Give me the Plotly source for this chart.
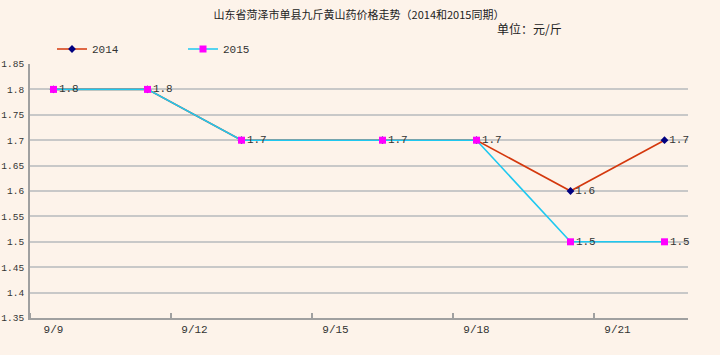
import plotly.graph_objects as go

dates = ["9/9", "9/11", "9/13", "9/16", "9/18", "9/20", "9/22"]
price_2014 = [1.8, 1.8, 1.7, 1.7, 1.7, 1.6, 1.7]
price_2015 = [1.8, 1.8, 1.7, 1.7, 1.7, 1.5, 1.5]
tick_labels = ["9/9", "9/12", "9/15", "9/18", "9/21"]
y_ticks = [1.35, 1.4, 1.45, 1.5, 1.55, 1.6, 1.65, 1.7, 1.75, 1.8, 1.85]

def day(s):
    return int(s.split("/")[1])

xs = [day(d) for d in dates]
tick_vals = [day(t) for t in tick_labels]

W, H = 720, 355
L, R, T, B = 30, 32, 64, 37
pw = W - L - R
ph = H - T - B

bg = "#FDF3EA"
num_font = "Liberation Mono"
cjk = "Noto Sans CJK SC"

# labels: 2015 everywhere, 2014 only where it is not hidden under the 2015 label
text_2015 = [f"{v:g}" for v in price_2015]
text_2014 = [f"{a:g}" if a != b else "" for a, b in zip(price_2014, price_2015)]

fig = go.Figure()
fig.add_trace(go.Scatter(
    x=xs, y=price_2014, name="2014", mode="lines+markers+text",
    line=dict(color="#D4380D", width=1.6),
    marker=dict(symbol="diamond", size=6, color="#000080"),
    text=text_2014, textposition="middle right",
    textfont=dict(family=num_font, size=11, color="#333333"),
    cliponaxis=False,
))
fig.add_trace(go.Scatter(
    x=xs, y=price_2015, name="2015", mode="lines+markers+text",
    line=dict(color="#1EC8F0", width=1.6),
    marker=dict(symbol="square", size=7, color="#FF00FF"),
    text=text_2015, textposition="middle right",
    textfont=dict(family=num_font, size=11, color="#333333"),
    cliponaxis=False,
))

fig.update_layout(
    width=W, height=H,
    margin=dict(l=L, r=R, t=T, b=B, autoexpand=False),
    paper_bgcolor=bg, plot_bgcolor=bg,
    title=dict(text="山东省菏泽市单县九斤黄山药价格走势（2014和2015同期）",
               x=359 / W, xanchor="center", y=1 - 15 / H, yanchor="middle",
               font=dict(family=cjk, size=11, color="#222222")),
    showlegend=True,
    legend=dict(orientation="h", x=(52 - L) / pw, xanchor="left",
                y=1 + (T - 49) / ph, yanchor="middle",
                bgcolor="rgba(0,0,0,0)", font=dict(family=num_font, size=11, color="#333333"),
                entrywidth=86, entrywidthmode="pixels", itemwidth=30),
    xaxis=dict(range=[8.5, 22.5], tickvals=tick_vals, ticktext=tick_labels,
               ticks="", showgrid=False, zeroline=False, automargin=False,
               showline=True, linecolor="#A0A0A0", linewidth=2,
               tickfont=dict(family=num_font, size=11, color="#333333"),
               minor=dict(ticks="inside", ticklen=5, tick0=8.5, dtick=3,
                          tickcolor="#A0A0A0", tickwidth=1.5, showgrid=False)),
    yaxis=dict(range=[1.35, 1.85],
               tickvals=y_ticks, ticktext=[f"{v:g}" for v in y_ticks],
               ticks="", showgrid=True, gridcolor="#C8C8C8", gridwidth=1.5,
               zeroline=False, showline=True, linecolor="#A0A0A0", linewidth=2,
               ticklabelstandoff=2, automargin=False,
               tickfont=dict(family=num_font, size=9.5, color="#333333")),
    annotations=[dict(text="单位：元/斤", x=(529 - L) / pw, xref="paper", xanchor="center",
                      y=1 + (T - 28) / ph, yref="paper", yanchor="middle",
                      showarrow=False, font=dict(family=cjk, size=12, color="#222222"))],
)

fig.write_html("out.html", config={"displayModeBar": False},
               post_script="document.body.style.margin='0';document.body.style.background='%s';" % bg)
